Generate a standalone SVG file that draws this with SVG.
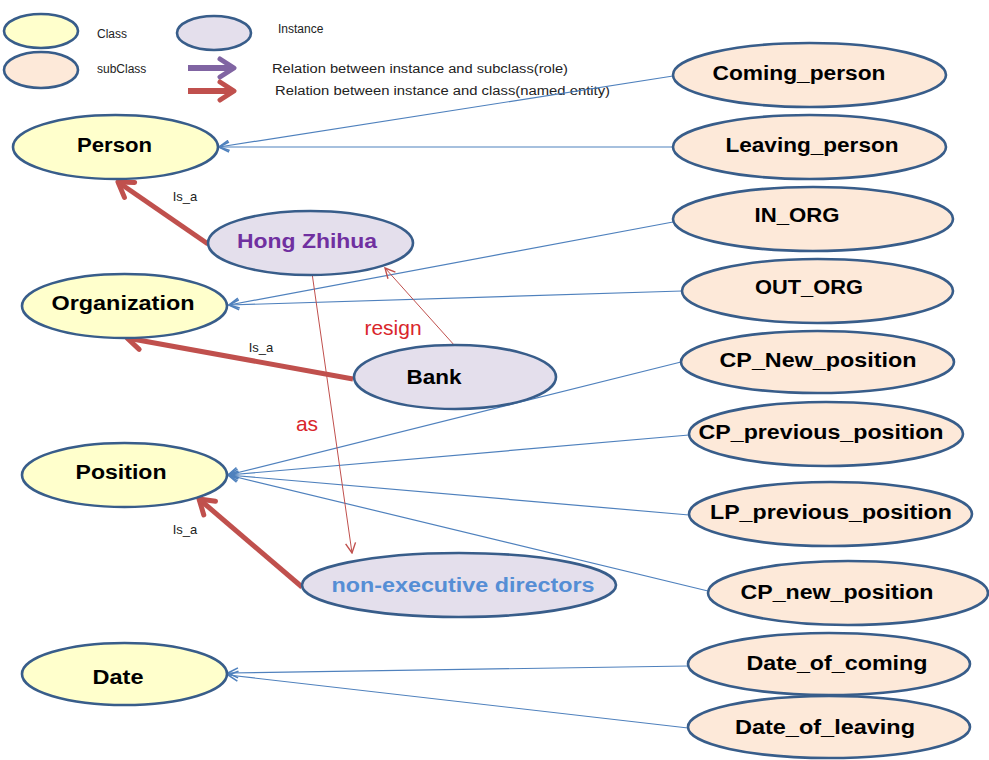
<svg xmlns="http://www.w3.org/2000/svg" width="989" height="760" viewBox="0 0 989 760">
<style>
  .cls { fill: #FFFFCC; stroke: #385D8A; stroke-width: 2.6; }
  .ins { fill: #E4DFEC; stroke: #385D8A; stroke-width: 2.6; }
  .sub { fill: #FDE9D9; stroke: #385D8A; stroke-width: 2.6; }
  .lbl { font-family: "Liberation Sans", Arial, sans-serif; font-weight: bold; font-size: 20px; fill: #000; text-anchor: middle; }
  .leg { font-family: "Liberation Sans", Arial, sans-serif; font-size: 12px; fill: #222; }
  .isa { font-family: "Liberation Sans", Arial, sans-serif; font-size: 13px; fill: #222; text-anchor: middle; }
  .rel { font-family: "Liberation Sans", Arial, sans-serif; font-size: 21px; fill: #D9262B; text-anchor: middle; }
  .blue { stroke: #4F81BD; stroke-width: 1.2; fill: none; marker-end: url(#openBlue); }
  .thin { stroke: #C0504D; stroke-width: 1; fill: none; marker-end: url(#openRed); }
  .thick { stroke: #C0504D; stroke-width: 5; fill: none; marker-end: url(#bigRed); }
</style>
<defs>
  <marker id="openBlue" markerUnits="userSpaceOnUse" viewBox="0 0 12 12" refX="11" refY="6" markerWidth="12" markerHeight="12" orient="auto">
    <path d="M1,1 L11,6 L1,11" fill="none" stroke="#4F81BD" stroke-width="1.6"/>
  </marker>
  <marker id="openRed" markerUnits="userSpaceOnUse" viewBox="0 0 12 12" refX="11" refY="6" markerWidth="12" markerHeight="12" orient="auto">
    <path d="M1,1 L11,6 L1,11" fill="none" stroke="#C0504D" stroke-width="1.4"/>
  </marker>
  <marker id="bigRed" markerUnits="userSpaceOnUse" viewBox="0 0 24 24" refX="20" refY="12" markerWidth="24" markerHeight="24" orient="auto">
    <path d="M6,3 L20,12 L6,21" fill="none" stroke="#C0504D" stroke-width="5" stroke-linecap="round" stroke-linejoin="round"/>
  </marker>
  <marker id="bigPurple" markerUnits="userSpaceOnUse" viewBox="0 0 24 24" refX="20" refY="12" markerWidth="24" markerHeight="24" orient="auto">
    <path d="M6,3 L20,12 L6,21" fill="none" stroke="#8064A2" stroke-width="5" stroke-linecap="round" stroke-linejoin="round"/>
  </marker>
</defs>

<g id="legend">
  <ellipse class="cls" cx="41" cy="31" rx="37" ry="17"/>
  <ellipse class="sub" cx="41" cy="70" rx="37" ry="18"/>
  <ellipse class="ins" cx="214" cy="33" rx="37" ry="17"/>
  <text class="leg" x="97" y="38">Class</text>
  <text class="leg" x="97" y="73">subClass</text>
  <text class="leg" x="278" y="33">Instance</text>
  <line x1="188" y1="68" x2="234" y2="68" stroke="#8064A2" stroke-width="6" marker-end="url(#bigPurple)"/>
  <line x1="188" y1="91" x2="234" y2="91" stroke="#C0504D" stroke-width="6" marker-end="url(#bigRed)"/>
  <text class="leg" x="272" y="73" textLength="296" lengthAdjust="spacingAndGlyphs">Relation between instance and subclass(role)</text>
  <text class="leg" x="275" y="95" textLength="335" lengthAdjust="spacingAndGlyphs">Relation between instance and class(named entity)</text>
</g>

<g id="connectors">
  <line class="blue" x1="673" y1="76" x2="219" y2="147"/>
  <line class="blue" x1="673" y1="147" x2="219" y2="147"/>
  <line class="blue" x1="673" y1="222" x2="229" y2="305"/>
  <line class="blue" x1="682" y1="291" x2="229" y2="305"/>
  <line class="blue" x1="681" y1="362" x2="228" y2="475"/>
  <line class="blue" x1="689" y1="435" x2="228" y2="475"/>
  <line class="blue" x1="689" y1="515" x2="228" y2="475"/>
  <line class="blue" x1="708" y1="591" x2="228" y2="475"/>
  <line class="blue" x1="688" y1="666" x2="228" y2="673"/>
  <line class="blue" x1="688" y1="728" x2="228" y2="675"/>
  <line class="thick" x1="208" y1="244" x2="118" y2="182"/>
  <line class="thick" x1="353" y1="379" x2="127" y2="338"/>
  <line class="thick" x1="302" y1="587" x2="199" y2="499"/>
  <line class="thin" x1="455" y1="346" x2="385" y2="268"/>
  <line class="thin" x1="312" y1="273" x2="352" y2="553"/>
  <text class="isa" x="185" y="201">Is_a</text>
  <text class="isa" x="261" y="352">Is_a</text>
  <text class="isa" x="185" y="534">Is_a</text>
  <text class="rel" x="393" y="335">resign</text>
  <text class="rel" x="307" y="431">as</text>
</g>

<g id="person"><ellipse class="cls" cx="115.5" cy="147" rx="102.5" ry="32"/><text class="lbl" x="114.5" y="152" textLength="75" lengthAdjust="spacingAndGlyphs">Person</text></g>
<g id="organization"><ellipse class="cls" cx="124.5" cy="306" rx="102.5" ry="32"/><text class="lbl" x="123" y="310" textLength="143" lengthAdjust="spacingAndGlyphs">Organization</text></g>
<g id="position"><ellipse class="cls" cx="124.5" cy="475" rx="102.5" ry="32"/><text class="lbl" x="121" y="479" textLength="91" lengthAdjust="spacingAndGlyphs">Position</text></g>
<g id="date"><ellipse class="cls" cx="124.5" cy="674" rx="102.5" ry="31"/><text class="lbl" x="118" y="684" textLength="51" lengthAdjust="spacingAndGlyphs">Date</text></g>

<g id="hong-zhihua"><ellipse class="ins" cx="310.5" cy="243" rx="102.5" ry="32"/><text class="lbl" x="307" y="248" style="fill:#7030A0" textLength="140" lengthAdjust="spacingAndGlyphs">Hong Zhihua</text></g>
<g id="bank"><ellipse class="ins" cx="455" cy="377" rx="101" ry="32"/><text class="lbl" x="434" y="384" textLength="55" lengthAdjust="spacingAndGlyphs">Bank</text></g>
<g id="non-executive-directors"><ellipse class="ins" cx="459" cy="585" rx="157" ry="32"/><text class="lbl" x="463" y="592" style="fill:#558ED5" textLength="263" lengthAdjust="spacingAndGlyphs">non-executive directors</text></g>

<g id="coming-person"><ellipse class="sub" cx="809.5" cy="75" rx="136.5" ry="32"/><text class="lbl" x="799" y="80" textLength="173" lengthAdjust="spacingAndGlyphs">Coming_person</text></g>
<g id="leaving-person"><ellipse class="sub" cx="809.5" cy="147" rx="136.5" ry="32"/><text class="lbl" x="812" y="152" textLength="173" lengthAdjust="spacingAndGlyphs">Leaving_person</text></g>
<g id="in-org"><ellipse class="sub" cx="813" cy="219" rx="140" ry="32"/><text class="lbl" x="797" y="222" textLength="85" lengthAdjust="spacingAndGlyphs">IN_ORG</text></g>
<g id="out-org"><ellipse class="sub" cx="817.5" cy="291" rx="135.5" ry="32"/><text class="lbl" x="809" y="294" textLength="108" lengthAdjust="spacingAndGlyphs">OUT_ORG</text></g>
<g id="cp-new-position-1"><ellipse class="sub" cx="817.5" cy="362" rx="136.5" ry="31"/><text class="lbl" x="818" y="367" textLength="197" lengthAdjust="spacingAndGlyphs">CP_New_position</text></g>
<g id="cp-previous-position"><ellipse class="sub" cx="826" cy="434" rx="137" ry="32"/><text class="lbl" x="821" y="439" textLength="245" lengthAdjust="spacingAndGlyphs">CP_previous_position</text></g>
<g id="lp-previous-position"><ellipse class="sub" cx="830.5" cy="514" rx="141.5" ry="32"/><text class="lbl" x="831" y="519" textLength="242" lengthAdjust="spacingAndGlyphs">LP_previous_position</text></g>
<g id="cp-new-position-2"><ellipse class="sub" cx="848" cy="593" rx="140" ry="32"/><text class="lbl" x="837" y="599" textLength="193" lengthAdjust="spacingAndGlyphs">CP_new_position</text></g>
<g id="date-of-coming"><ellipse class="sub" cx="829" cy="664" rx="141" ry="31"/><text class="lbl" x="837" y="670" textLength="181" lengthAdjust="spacingAndGlyphs">Date_of_coming</text></g>
<g id="date-of-leaving"><ellipse class="sub" cx="829" cy="727" rx="141" ry="31"/><text class="lbl" x="825" y="734" textLength="180" lengthAdjust="spacingAndGlyphs">Date_of_leaving</text></g>
</svg>
